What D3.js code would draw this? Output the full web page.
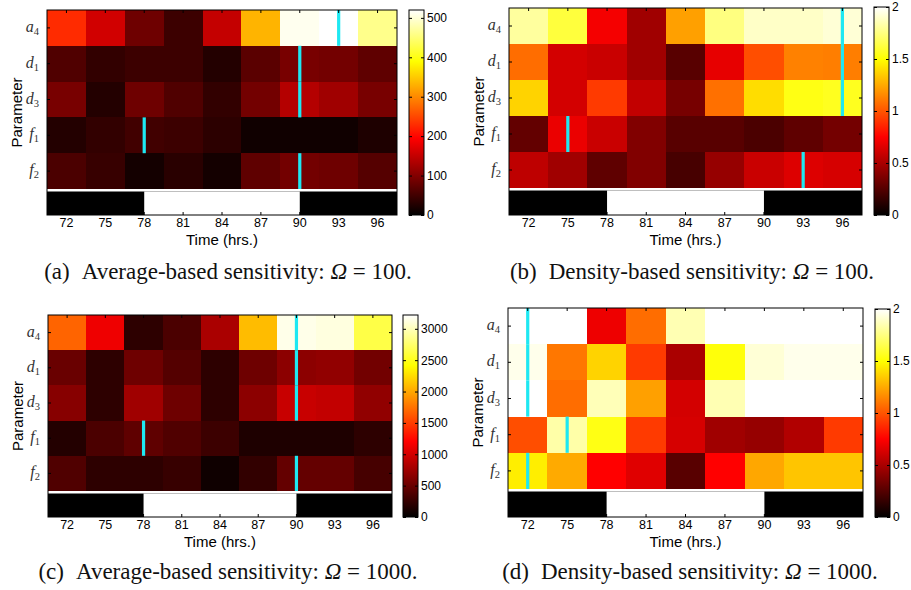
<!DOCTYPE html>
<html>
<head>
<meta charset="utf-8">
<script src="https://cdn.jsdelivr.net/npm/d3@7"></script>
<style>
  body { margin: 0; background: #fff; }
  svg { display: block; }
</style>
</head>
<body>
<div id="chart"></div>
<script>
let times  = [72, 75, 78, 81, 84, 87, 90, 93, 96];
let params = ["a4", "d1", "d3", "f1", "f2"];

// dark / light strip under each map: light between these hours
let lightPeriod = [78, 90];

// rows follow params, columns follow times
let avg100 = [
  [228, 160,  84,  46, 150, 333, 512, 520, 461],
  [ 61,  38,  46,  46,  27,  69,  92,  88,  73],
  [ 92,  27,  84,  61,  38,  88, 138, 122,  92],
  [ 27,  38,  50,  46,  34,  12,  12,  12,  23],
  [ 57,  42,  15,  31,  15,  73,  88,  84,  65]
];
let avg100Peak = [93, 90, 90, 78, 90];

let dens100 = [
  [1.81, 1.62, 0.72, 0.47, 1.22, 1.75, 1.89, 1.89, 1.92],
  [1.07, 0.62, 0.59, 0.47, 0.26, 0.68, 0.98, 1.13, 1.12],
  [1.37, 0.62, 0.92, 0.57, 0.35, 1.08, 1.40, 1.54, 1.56],
  [0.29, 0.69, 0.59, 0.38, 0.26, 0.26, 0.22, 0.28, 0.34],
  [0.56, 0.47, 0.28, 0.38, 0.21, 0.44, 0.59, 0.65, 0.63]
];
let dens100Peak = [96, 96, 96, 75, 93];

let avg1000 = [
  [1680, 1130,  212,  355,  805, 2100, 3150, 3120, 2640],
  [ 497,  212,  520,  400,  212,  520,  663,  685,  540],
  [ 640,  212,  760,  520,  212,  663,  945,  920,  685],
  [ 165,  355,  450,  380,  283,  142,  142,  142,  212],
  [ 380,  212,  212,  260,   71,  236,  473,  473,  330]
];
let avg1000Peak = [90, 90, 90, 78, 90];

let dens1000 = [
  [2.00, 2.00, 0.70, 1.07, 1.85, 2.00, 2.00, 2.00, 2.00],
  [1.96, 1.10, 1.37, 0.92, 0.50, 1.52, 1.92, 1.96, 1.96],
  [2.00, 1.07, 1.86, 1.22, 0.62, 1.85, 2.00, 2.00, 2.00],
  [0.98, 1.83, 1.54, 0.92, 0.63, 0.47, 0.44, 0.52, 0.92],
  [1.45, 1.25, 0.75, 0.66, 0.26, 0.75, 1.24, 1.33, 1.33]
];
let dens1000Peak = [72, 72, 72, 75, 72];

let avg100Ticks  = [0, 100, 200, 300, 400, 500];
let densTicks    = [0, 0.5, 1, 1.5, 2];
let avg1000Ticks = [0, 500, 1000, 1500, 2000, 2500, 3000];

let captions = [
  ["(a)", "Average-based sensitivity: ", " = 100."],
  ["(b)", "Density-based sensitivity: ", " = 100."],
  ["(c)", "Average-based sensitivity: ", " = 1000."],
  ["(d)", "Density-based sensitivity: ", " = 1000."]
];

let panels = [
  {values: avg100,   peaks: avg100Peak,   max: 520,  ticks: avg100Ticks,  caption: captions[0],
   left: 47,  top: 10,  right: 397, heatBottom: 189, bottom: 215, cbLeft: 409, cbTop: 10,  cbBottom: 215, capX: 228, capY: 279},
  {values: dens100,  peaks: dens100Peak,  max: 2,    ticks: densTicks,    caption: captions[1],
   left: 509, top: 8,   right: 862, heatBottom: 188, bottom: 215, cbLeft: 874, cbTop: 7,   cbBottom: 215, capX: 692, capY: 279},
  {values: avg1000,  peaks: avg1000Peak,  max: 3220, ticks: avg1000Ticks, caption: captions[2],
   left: 48,  top: 315, right: 392, heatBottom: 491, bottom: 517, cbLeft: 403, cbTop: 315, cbBottom: 517, capX: 228, capY: 579},
  {values: dens1000, peaks: dens1000Peak, max: 2,    ticks: densTicks,    caption: captions[3],
   left: 508, top: 308, right: 863, heatBottom: 489, bottom: 517, cbLeft: 875, cbTop: 309, cbBottom: 517, capX: 690, capY: 579}
];

let svg =
  d3.select("#chart")
    .append("svg")
      .attr("width", 911)
      .attr("height", 590);

let defs = svg.append("defs");

// matlab "hot"
function hot(t) {
  t = Math.max(0, Math.min(1, t));
  let r = Math.min(1, t / 0.375),
      g = Math.max(0, Math.min(1, (t - 0.375) / 0.375)),
      b = Math.max(0, (t - 0.75) / 0.25);
  return d3.rgb(r * 255, g * 255, b * 255).toString();
}

let sans  = "'Liberation Sans', Arial, sans-serif",
    serif = "'Liberation Serif', 'Times New Roman', serif";

panels.forEach(function(p, k) {
  let w  = p.right - p.left,
      h  = p.bottom - p.top,
      hh = p.heatBottom - p.top,
      gap = 2.5;

  let x = d3.scaleBand().domain(times).range([0, w]);
  let y = d3.scaleBand().domain(params).range([0, hh]);
  let color = d3.scaleSequential(hot).domain([0, p.max]);
  let mid = function(t) { return x(t) + x.bandwidth() / 2; };

  let g = svg.append("g")
      .attr("transform", translate(p.left, p.top));

  let cells = [];
  p.values.forEach(function(row, i) {
    row.forEach(function(v, j) {
      cells.push({param: params[i], time: times[j], value: v});
    });
  });

  g.selectAll(".cell")
    .data(cells)
    .enter()
    .append("rect")
      .attr("class", "cell")
      .attr("x", function(d) { return x(d.time); })
      .attr("y", function(d) { return y(d.param); })
      .attr("width", x.bandwidth() + 0.4)
      .attr("height", y.bandwidth() + 0.4)
      .attr("shape-rendering", "crispEdges")
      .attr("fill", function(d) { return color(d.value); });

  // separator + day/night strip
  g.append("rect")
      .attr("y", hh).attr("width", w).attr("height", gap)
      .attr("fill", "#fff");
  g.append("rect")
      .attr("y", hh + gap).attr("width", w).attr("height", h - hh - gap)
      .attr("fill", "#000");
  g.append("rect")
      .attr("x", mid(lightPeriod[0]))
      .attr("y", hh + gap)
      .attr("width", mid(lightPeriod[1]) - mid(lightPeriod[0]))
      .attr("height", h - hh - gap)
      .attr("fill", "#fff");

  // peak markers
  g.selectAll(".peak")
    .data(p.peaks.map(function(t, i) { return {param: params[i], time: t}; }))
    .enter()
    .append("rect")
      .attr("class", "peak")
      .attr("x", function(d) { return mid(d.time) - 1.6; })
      .attr("y", function(d) { return y(d.param); })
      .attr("width", 3.2)
      .attr("height", y.bandwidth())
      .attr("fill", "#1ee8f2");

  // axes
  let xb = g.append("g")
      .attr("transform", translate(0, h))
      .call(d3.axisBottom(x).tickSize(-3).tickPadding(3.5));
  xb.selectAll("text")
      .attr("font-family", sans)
      .attr("font-size", 12.5)
      .attr("fill", "#000");

  g.append("g")
      .call(d3.axisTop(x).tickSize(-3).tickFormat(""));
  g.append("g")
      .call(d3.axisLeft(y).tickSize(-3).tickFormat(""));
  g.append("g")
      .attr("transform", translate(w, 0))
      .call(d3.axisRight(y).tickSize(-3).tickFormat(""));

  g.selectAll(".domain").remove();
  g.selectAll(".tick line").attr("stroke", "#000");

  // row labels: italic letter with subscript
  let rl = g.selectAll(".rowlabel")
    .data(params)
    .enter()
    .append("text")
      .attr("class", "rowlabel")
      .attr("x", -8)
      .attr("y", function(d) { return y(d) + y.bandwidth() / 2 + 4; })
      .attr("text-anchor", "end")
      .attr("font-family", serif)
      .attr("font-size", 16)
      .attr("fill", "#333");
  rl.append("tspan")
      .attr("font-style", "italic")
      .text(function(d) { return d.charAt(0); });
  rl.append("tspan")
      .attr("font-size", 10.5)
      .attr("dy", 3)
      .text(function(d) { return d.slice(1); });

  g.append("rect")
      .attr("width", w)
      .attr("height", h)
      .attr("fill", "none")
      .attr("stroke", "#000")
      .attr("stroke-width", 1);

  g.append("text")
      .attr("x", w / 2)
      .attr("y", h + 30)
      .attr("text-anchor", "middle")
      .attr("font-family", sans)
      .attr("font-size", 15)
      .text("Time (hrs.)");

  g.append("text")
      .attr("transform", translate(-30, h / 2) + " rotate(-90)")
      .attr("text-anchor", "middle")
      .attr("dy", "0.35em")
      .attr("font-family", sans)
      .attr("font-size", 15)
      .text("Parameter");

  // colorbar
  let cbW = 15,
      cbH = p.cbBottom - p.cbTop;
  let grad = defs.append("linearGradient")
      .attr("id", "cb" + k)
      .attr("x1", 0).attr("y1", 1)
      .attr("x2", 0).attr("y2", 0);
  grad.selectAll("stop")
    .data(d3.range(0, 1.0001, 0.025))
    .enter()
    .append("stop")
      .attr("offset", function(d) { return d; })
      .attr("stop-color", function(d) { return hot(d); });

  let cb = svg.append("g")
      .attr("transform", translate(p.cbLeft, p.cbTop));
  let cy = d3.scaleLinear().domain([0, p.max]).range([cbH, 0]);

  cb.append("rect")
      .attr("width", cbW)
      .attr("height", cbH)
      .attr("fill", "url(#cb" + k + ")");

  let cr = cb.append("g")
      .attr("transform", translate(cbW, 0))
      .call(d3.axisRight(cy).tickValues(p.ticks).tickSize(-3).tickPadding(3)
              .tickFormat(function(d) { return String(d); }));
  cr.selectAll("text")
      .attr("font-family", sans)
      .attr("font-size", 12)
      .attr("fill", "#000");
  cb.append("g")
      .call(d3.axisLeft(cy).tickValues(p.ticks).tickSize(-3).tickFormat(""));
  cb.selectAll(".domain").remove();
  cb.selectAll(".tick line").attr("stroke", "#000");

  cb.append("rect")
      .attr("width", cbW)
      .attr("height", cbH)
      .attr("fill", "none")
      .attr("stroke", "#000");

  // caption
  let cap = svg.append("text")
      .attr("x", p.capX)
      .attr("y", p.capY)
      .attr("text-anchor", "middle")
      .attr("font-family", serif)
      .attr("font-size", 23)
      .attr("fill", "#111")
      .style("white-space", "pre");
  cap.append("tspan").text(p.caption[0]);
  cap.append("tspan").attr("dx", 12).text(p.caption[1]);
  cap.append("tspan").attr("font-style", "italic").text("\u03A9");
  cap.append("tspan").text(p.caption[2]);
});

function translate(x, y=0) {
  return "translate({x}, {y})"
          .replace("{x}", x)
          .replace("{y}", y);
}
</script>
</body>
</html>
